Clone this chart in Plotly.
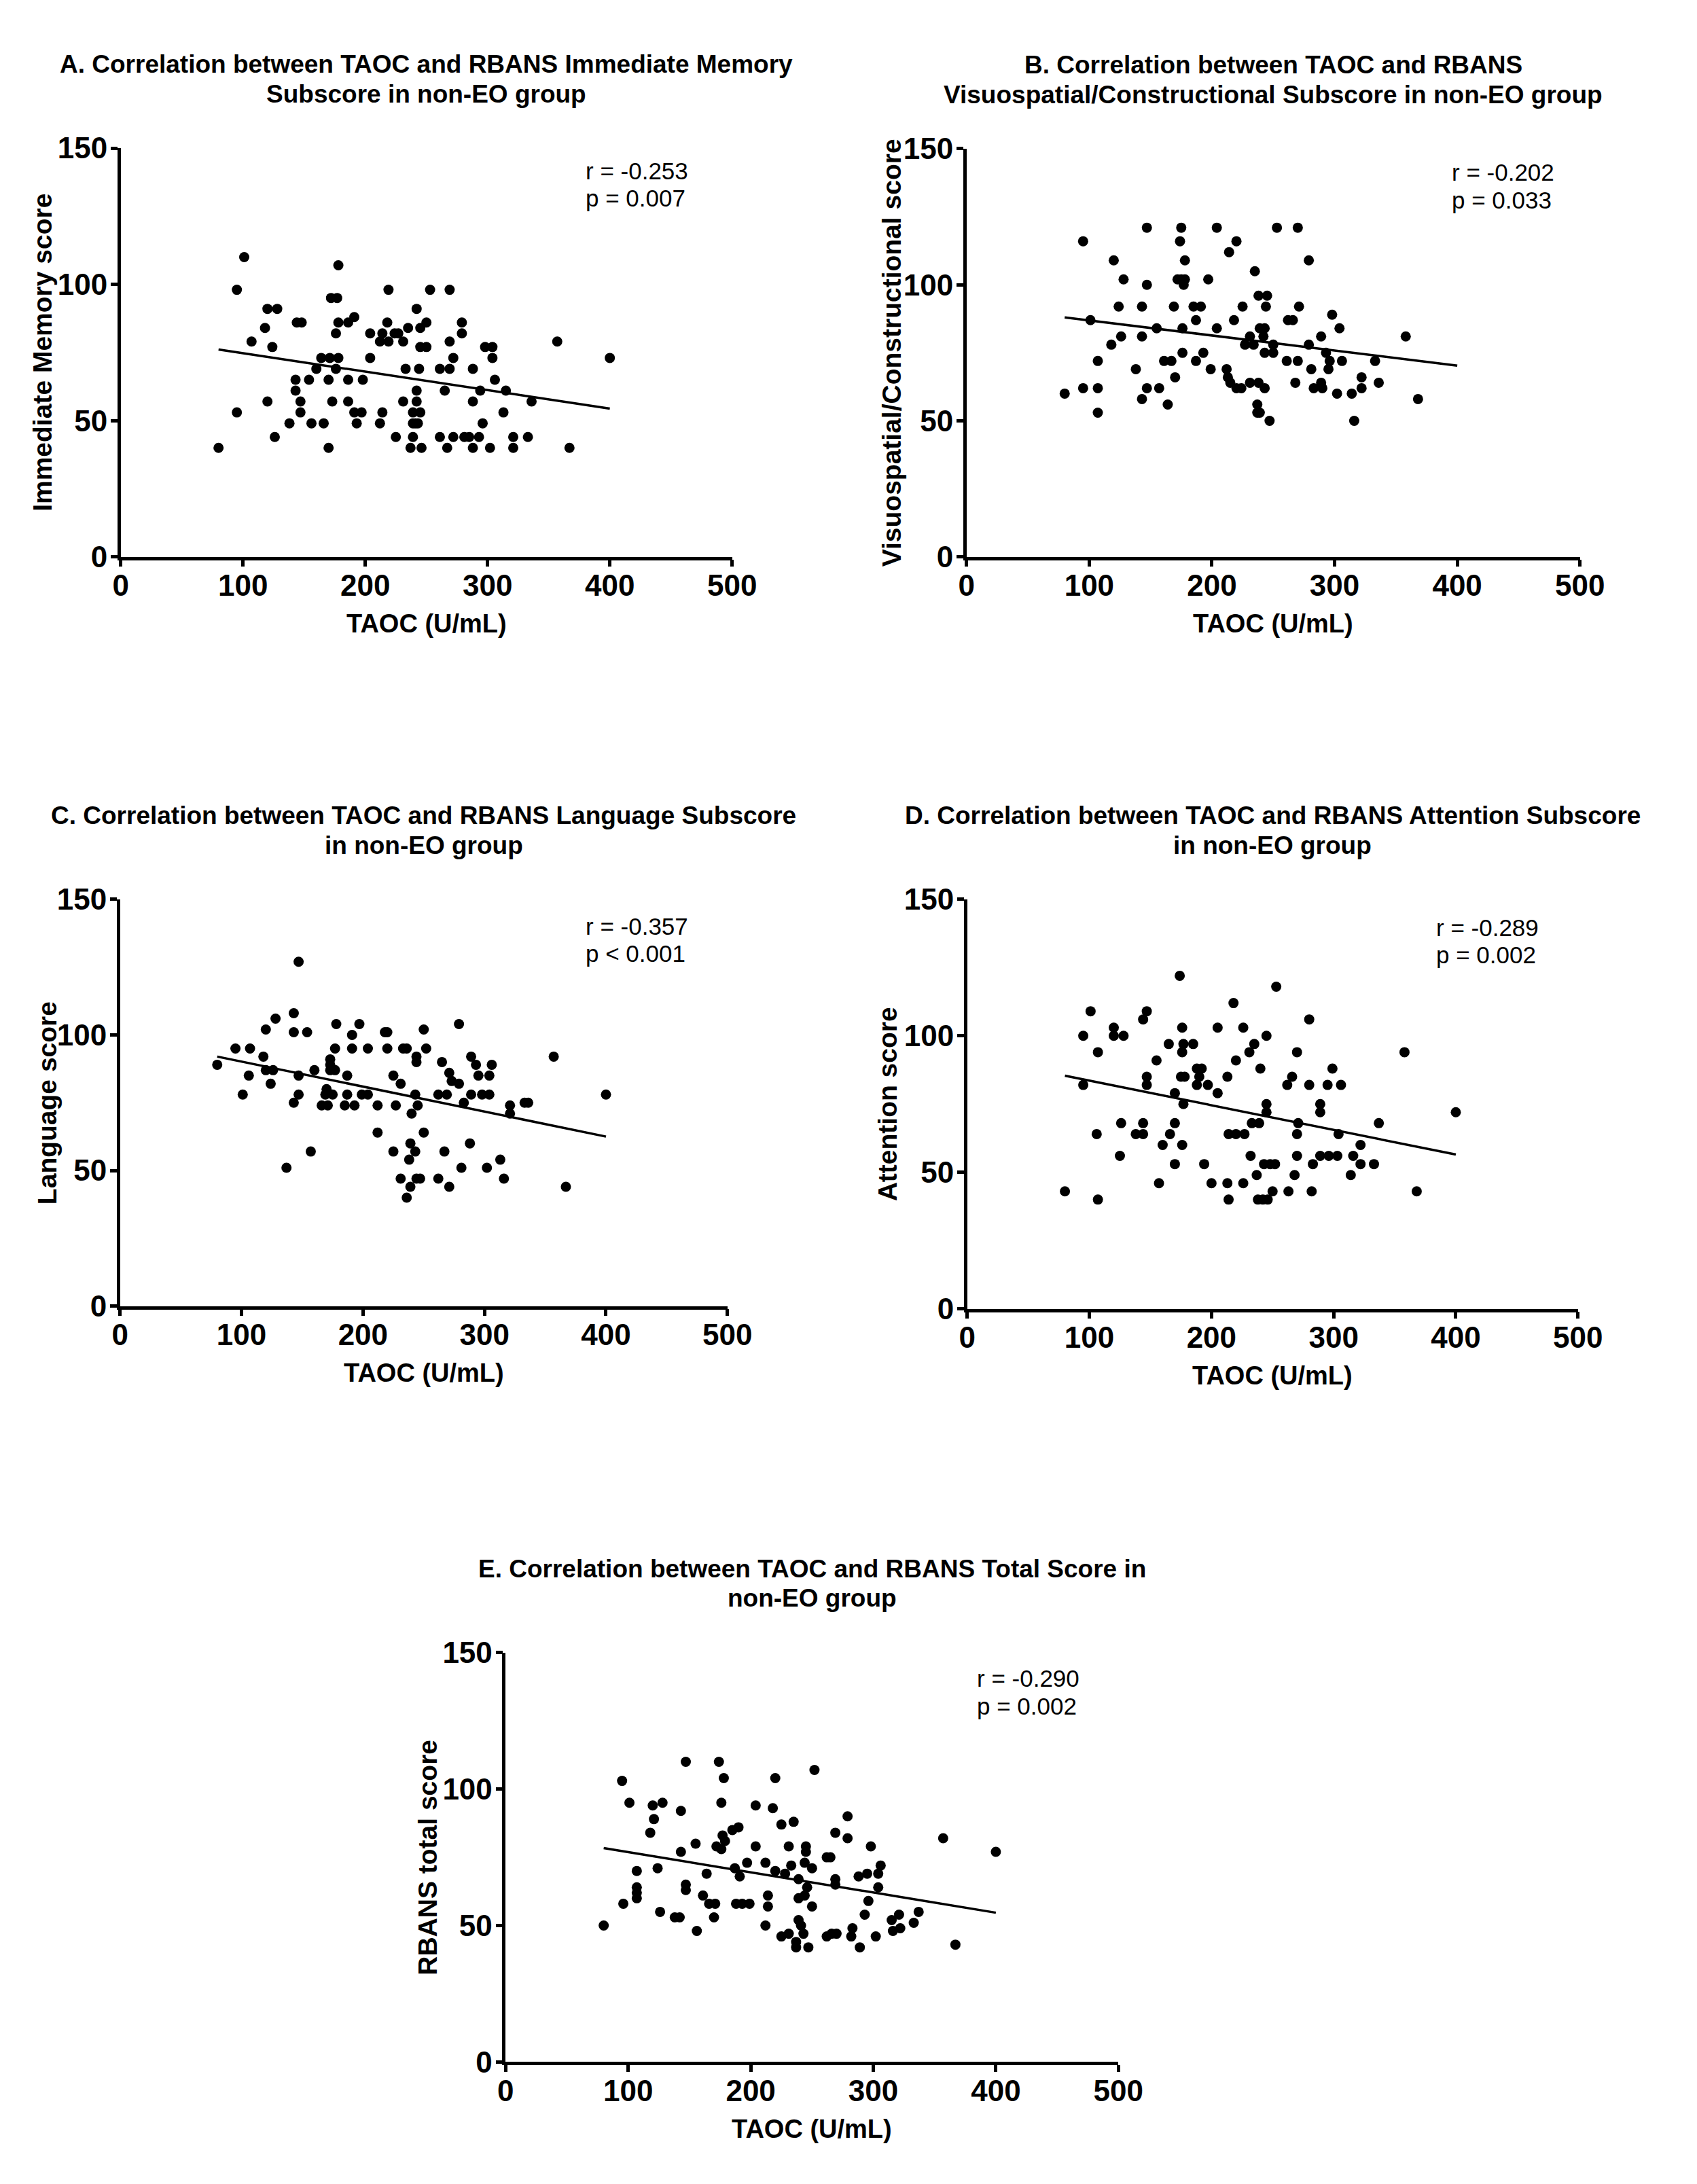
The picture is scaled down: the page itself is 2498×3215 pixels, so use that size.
import plotly.graph_objects as go

W, H = 2498, 3215

# ---------------- data ----------------
title_lines = [
    ("A. Correlation between TAOC and RBANS Immediate Memory", "Subscore in non-EO group"),
    ("B. Correlation between TAOC and RBANS", "Visuospatial/Constructional Subscore in non-EO group"),
    ("C. Correlation between TAOC and RBANS Language Subscore", "in non-EO group"),
    ("D. Correlation between TAOC and RBANS Attention Subscore", "in non-EO group"),
    ("E. Correlation between TAOC and RBANS Total Score in", "non-EO group"),
]
y_titles = ["Immediate Memory score", "Visuospatial/Constructional score",
            "Language score", "Attention score", "RBANS total score"]
x_title = "TAOC (U/mL)"
stat_r = ["r = -0.253", "r = -0.202", "r = -0.357", "r = -0.289", "r = -0.290"]
stat_p = ["p = 0.007", "p = 0.033", "p < 0.001", "p = 0.002", "p = 0.002"]
x_ticks = [0, 100, 200, 300, 400, 500]
y_ticks = [0, 50, 100, 150]

taoc_A = [101, 178, 95, 219, 253, 269, 172, 177, 120, 128, 242, 191,
          144, 148, 178, 186, 218, 250, 279, 118, 235, 245,
          176, 204, 214, 224, 227, 279, 107, 212, 219, 231, 269, 357,
          124, 245, 250, 298, 304, 164, 171, 178, 204, 272, 304, 400,
          160, 176, 233, 244, 261, 269, 288, 143, 154, 170, 186, 198, 306,
          143, 242, 265, 294, 315, 120, 147, 173, 186, 231, 242, 288, 336,
          95, 147, 191, 197, 214, 239, 245, 313,
          138, 156, 166, 193, 212, 239, 243, 241, 296,
          126, 225, 239, 261, 272, 281, 285, 293, 321, 333,
          80, 170, 237, 246, 267, 288, 302, 321, 367]
score_A = [110, 107, 98, 98, 98, 98, 95, 95, 91, 91, 91, 88,
           86, 86, 86, 86, 86, 86, 86, 84, 84, 84,
           82, 82, 82, 82, 82, 82, 79, 79, 79, 79, 79, 79,
           77, 77, 77, 77, 77, 73, 73, 73, 73, 73, 73, 73,
           69, 69, 69, 69, 69, 69, 69, 65, 65, 65, 65, 65, 65,
           61, 61, 61, 61, 61, 57, 57, 57, 57, 57, 57, 57, 57,
           53, 53, 53, 53, 53, 53, 53, 53,
           49, 49, 49, 49, 49, 49, 49, 49, 49,
           44, 44, 44, 44, 44, 44, 44, 44, 44, 44,
           40, 40, 40, 40, 40, 40, 40, 40, 40]

taoc_B = [147, 175, 204, 253, 270, 95, 174, 220, 214, 120, 178, 279, 235,
          128, 172, 175, 178, 197, 147, 177, 238, 245,
          124, 143, 169, 185, 191, 225, 244, 271, 298,
          101, 187, 218, 262, 266, 155, 176, 204, 239, 243, 304,
          126, 143, 231, 242, 289, 358, 118, 227, 234, 250, 279,
          176, 193, 243, 250, 293,
          107, 161, 167, 187, 261, 270, 296, 306, 333,
          138, 199, 212, 281, 295, 170, 213, 322,
          215, 231, 238, 268, 289, 336, 220, 224, 243,
          95, 107, 147, 157, 283, 290, 322, 80, 302, 314,
          143, 368, 164, 237, 107, 237, 239, 247, 316]
score_B = [121, 121, 121, 121, 121, 116, 116, 116, 112, 109, 109, 109, 105,
           102, 102, 102, 102, 102, 100, 100, 96, 96,
           92, 92, 92, 92, 92, 92, 92, 92, 89,
           87, 87, 87, 87, 87, 84, 84, 84, 84, 84, 84,
           81, 81, 81, 81, 81, 81, 78, 78, 78, 78, 78,
           75, 75, 75, 75, 75,
           72, 72, 72, 72, 72, 72, 72, 72, 72,
           69, 69, 69, 69, 69, 66, 66, 66,
           64, 64, 64, 64, 64, 64, 62, 62, 62,
           62, 62, 62, 62, 62, 62, 62, 60, 60, 60,
           58, 58, 56, 56, 53, 53, 53, 50, 50]

taoc_C = [147, 143, 128, 178, 197, 279, 120, 250, 143, 154, 218, 220, 191,
          95, 107, 177, 191, 204, 220, 233, 236, 252,
          118, 244, 357, 173, 173, 173, 244, 265, 289, 293, 306, 80,
          120, 126, 160, 177, 271, 106, 147, 187, 225, 273, 295, 304,
          124, 231, 279, 170,
          101, 147, 169, 175, 187, 199, 204, 243, 262, 269, 289, 298, 304, 400,
          143, 283, 333, 336, 166, 171, 185, 193, 212, 227, 245, 321,
          240, 321, 212, 250, 239, 288, 157, 225, 243, 267, 238, 313,
          137, 281, 302, 231, 244, 247, 262, 316, 239, 271, 367, 236]
score_C = [127, 108, 106, 104, 104, 104, 102, 102, 101, 101, 101, 101, 100,
           95, 95, 95, 95, 95, 95, 95, 95, 95,
           92, 92, 92, 91, 89, 87, 90, 90, 92, 89, 89, 89,
           87, 87, 87, 87, 86, 85, 85, 85, 85, 83, 85, 85,
           82, 82, 82, 80,
           78, 78, 78, 78, 78, 78, 78, 78, 78, 78, 78, 78, 78, 78,
           75, 75, 75, 75, 74, 74, 74, 74, 74, 74, 74, 74,
           71, 71, 64, 64, 60, 60, 57, 57, 57, 57, 54, 54,
           51, 51, 51, 47, 47, 47, 47, 47, 44, 44, 44, 40]

taoc_D = [174, 253, 218, 101, 147, 144, 280, 120, 176, 205, 226,
          95, 120, 128, 245, 165, 177, 185, 235, 107, 176, 231, 270, 358,
          155, 220, 188, 192, 240, 299, 147, 175, 178, 190, 213, 266,
          95, 147, 188, 197, 262, 280, 295, 306, 170, 205,
          177, 245, 289, 245, 289, 400,
          126, 144, 170, 233, 239, 271, 337,
          106, 138, 144, 166, 214, 220, 227, 270, 304,
          160, 176, 322, 125, 232, 270, 289, 296, 303, 316,
          170, 194, 243, 248, 252, 283, 322, 333, 237, 268, 314,
          157, 200, 213, 226, 80, 250, 263, 282, 368,
          107, 214, 238, 242, 246]
score_D = [122, 118, 112, 109, 109, 106, 106, 103, 103, 103, 103,
           100, 100, 100, 100, 97, 97, 97, 97, 94, 94, 94, 94, 94,
           91, 91, 88, 88, 88, 88, 85, 85, 85, 85, 85, 85,
           82, 82, 82, 82, 82, 82, 82, 82, 79, 79,
           75, 75, 75, 72, 72, 72,
           68, 68, 68, 68, 68, 68, 68,
           64, 64, 64, 64, 64, 64, 64, 64, 64,
           60, 60, 60, 56, 56, 56, 56, 56, 56, 56,
           53, 53, 53, 53, 53, 53, 53, 53, 49, 49, 49,
           46, 46, 46, 46, 43, 43, 43, 43, 43,
           40, 40, 40, 40, 40]

taoc_E = [147, 174, 252, 178, 220, 95, 101, 128, 176, 120, 204, 218, 143,
          279, 121, 235, 225, 190, 185, 118, 269, 177, 279, 357, 179, 155,
          172, 204, 231, 245, 298, 176, 143, 245, 400, 262, 265,
          197, 212, 244, 233, 306, 124, 187, 250, 107, 220, 228,
          164, 295, 304, 191, 288, 239, 269, 147, 269, 107, 246, 304,
          147, 107, 161, 214, 244, 107, 239, 296,
          96, 166, 171, 188, 193, 199, 214, 250, 126, 337, 293, 321,
          138, 142, 170, 239, 315, 333, 80, 212, 241, 283, 322, 156, 316,
          231, 270, 243, 266, 225, 262, 282, 302, 237, 367, 237, 247, 289]
score_E = [110, 110, 107, 104, 104, 103, 95, 95, 95, 94, 94, 93, 92,
           90, 89, 88, 87, 86, 85, 84, 84, 83, 82, 82, 81, 80,
           79, 79, 79, 79, 79, 78, 77, 77, 77, 75, 75,
           73, 73, 73, 72, 72, 71, 71, 71, 70, 70, 69,
           69, 69, 69, 68, 68, 67, 67, 65, 65, 64, 64, 64,
           63, 62, 61, 61, 61, 60, 60, 59,
           58, 58, 58, 58, 58, 58, 57, 57, 55, 55, 54, 54,
           53, 53, 53, 52, 52, 51, 50, 50, 50, 49, 49, 48, 48,
           47, 47, 47, 47, 46, 46, 46, 46, 44, 43, 42, 42, 42]

# regression line end points
fit_x = [80, 400]
fit_A = [76.1, 54.4]
fit_B = [88.0, 70.3]
fit_C = [92.0, 62.5]
fit_D = [85.4, 56.5]
fit_E = [78.4, 54.7]

panels = [
    (taoc_A, score_A, fit_A),
    (taoc_B, score_B, fit_B),
    (taoc_C, score_C, fit_C),
    (taoc_D, score_D, fit_D),
    (taoc_E, score_E, fit_E),
]

# ---------------- layout (pixel boxes of the plot areas) ----------------
boxes = [  # left, right, top, bottom in pixels
    (169, 1087, 196, 807),
    (1439, 2360, 197, 807),
    (168, 1080, 1319, 1927),
    (1440, 2357, 1319, 1931),
    (747, 1667, 2445, 3057),
]
ytitle_gap = [117, 113, 110, 120, 118]   # px left of the y axis
stat_off = [(34, 75), (35, 77), (40, 81), (42, 83), (38, 80)]  # px below plot top
stat_left = [865, 2165, 865, 2142, 1452]   # px

FONT = "Liberation Sans, Arial, sans-serif"

fig = go.Figure()
annotations = []


def px_x(v):
    return v / W


def px_y(v):
    return 1 - v / H


for i, ((tx, ty, fy), (l, r, t, b)) in enumerate(zip(panels, boxes)):
    n = "" if i == 0 else str(i + 1)
    xa, ya = "x" + n, "y" + n
    fig.add_trace(go.Scatter(
        x=tx, y=ty, mode="markers", xaxis=xa, yaxis=ya,
        marker=dict(color="black", size=15, line=dict(width=0)),
        showlegend=False, cliponaxis=False))
    fig.add_trace(go.Scatter(
        x=fit_x, y=fy, mode="lines", xaxis=xa, yaxis=ya,
        line=dict(color="black", width=3.5), showlegend=False))
    axis_common = dict(
        showline=True, linewidth=4.5, linecolor="black", ticks="outside",
        ticklen=10, tickwidth=4.5, tickcolor="black", showgrid=False,
        zeroline=False, fixedrange=True,
        tickfont=dict(family=FONT, size=44, color="black", weight="bold"))
    fig.update_layout(**{
        ("xaxis" + n): dict(domain=[px_x(l), px_x(r)], anchor=ya, range=[0, 500],
                            tickvals=x_ticks, ticklabelstandoff=-10, **axis_common),
        ("yaxis" + n): dict(domain=[px_y(b), px_y(t)], anchor=xa,
                            range=[0, 150], tickvals=y_ticks,
                            ticklabelstandoff=-4, **axis_common),
    })
    cx = px_x((l + r) / 2)
    for line_text, off in zip(title_lines[i], (125, 81)):
        annotations.append(dict(
            text=line_text, xref="paper", yref="paper", x=cx,
            y=px_y(t - off), xanchor="center", yanchor="middle",
            showarrow=False,
            font=dict(family=FONT, size=37, color="black", weight="bold")))
    annotations.append(dict(
        text=x_title, xref="paper", yref="paper", x=cx,
        y=px_y(b + 100), xanchor="center", yanchor="middle",
        showarrow=False,
        font=dict(family=FONT, size=38, color="black", weight="bold")))
    annotations.append(dict(
        text=y_titles[i], xref="paper", yref="paper", x=px_x(l - ytitle_gap[i]),
        y=px_y((t + b) / 2), xanchor="center", yanchor="middle",
        textangle=-90, showarrow=False,
        font=dict(family=FONT, size=39, color="black", weight="bold")))
    for s_text, off in zip((stat_r[i], stat_p[i]), stat_off[i]):
        annotations.append(dict(
            text=s_text, xref="paper", yref="paper", x=px_x(stat_left[i]),
            y=px_y(t + off), xanchor="left", yanchor="middle",
            showarrow=False,
            font=dict(family=FONT, size=35, color="black")))

fig.update_layout(
    width=W, height=H, autosize=False,
    margin=dict(l=0, r=0, t=0, b=0, pad=0),
    paper_bgcolor="white", plot_bgcolor="white",
    annotations=annotations,
)

fig.write_html(
    "out.html", config={"displayModeBar": False},
    post_script="document.body.style.margin='0px';"
                "document.documentElement.style.overflow='hidden';")
